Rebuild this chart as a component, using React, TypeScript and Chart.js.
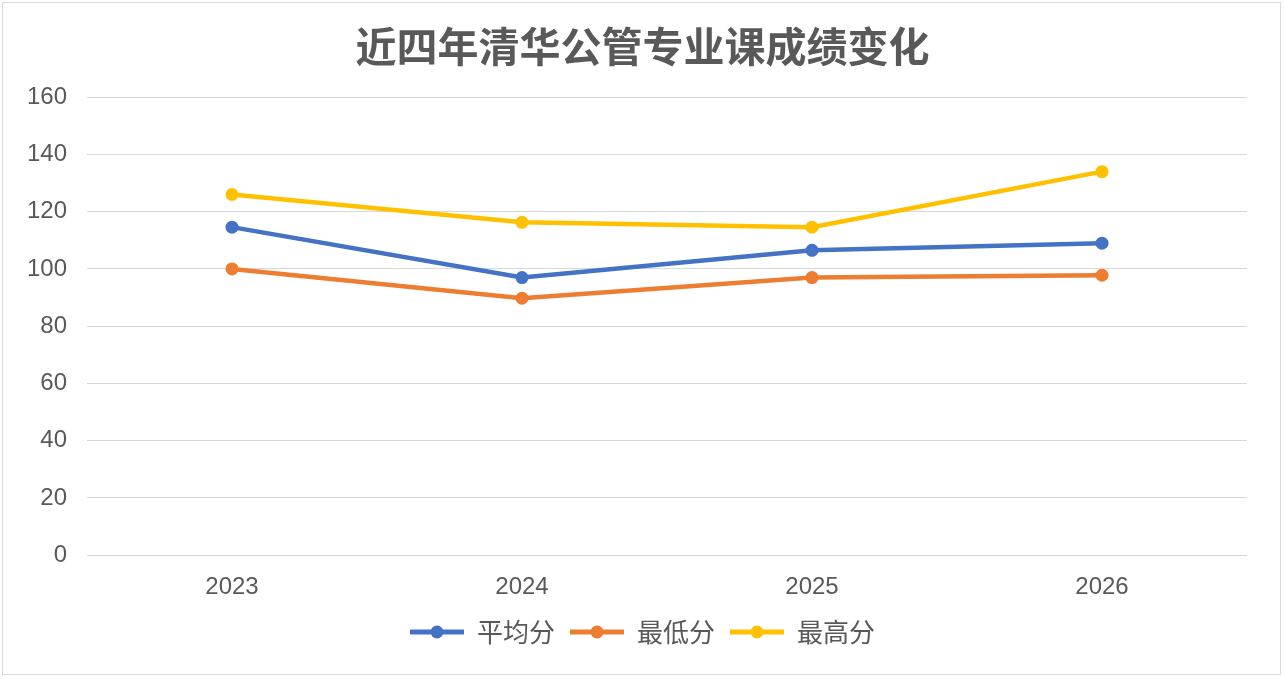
import React, { useEffect, useRef } from "react";
import { Chart, registerables } from "chart.js";

Chart.register(...registerables);

const title = "近四年清华公管专业课成绩变化";
const years = ["2023", "2024", "2025", "2026"];
const seriesNames = ["平均分", "最低分", "最高分"];
const avgScores = [114.6, 97, 106.5, 109];
const lowScores = [100, 89.8, 97, 97.8];
const highScores = [126, 116.3, 114.6, 134];
const colors = ["#4472C4", "#ED7D31", "#FFC000"];

function legendIcon(color: string) {
  const c = document.createElement("canvas");
  c.width = 54;
  c.height = 14;
  const ctx = c.getContext("2d")!;
  ctx.strokeStyle = color;
  ctx.lineWidth = 5;
  ctx.beginPath();
  ctx.moveTo(0, 7);
  ctx.lineTo(54, 7);
  ctx.stroke();
  ctx.fillStyle = color;
  ctx.beginPath();
  ctx.arc(27, 7, 6.5, 0, Math.PI * 2);
  ctx.fill();
  return c;
}

export default function App() {
  const ref = useRef<HTMLCanvasElement>(null);
  useEffect(() => {
    document.body.style.margin = "0";
    const all = [avgScores, lowScores, highScores];
    const icons = colors.map(legendIcon);
    const chart = new Chart(ref.current!, {
      type: "line",
      data: {
        labels: years,
        datasets: seriesNames.map((n, i) => ({
          label: n,
          data: all[i],
          borderColor: colors[i],
          backgroundColor: colors[i],
          borderWidth: 4.5,
          pointRadius: 6.5,
          pointHoverRadius: 6.5,
          pointBorderWidth: 0,
          tension: 0,
          yAxisID: "y",
        })),
      },
      options: {
        animation: false,
        responsive: false,
        maintainAspectRatio: false,
        layout: { padding: { left: 0, right: 0, top: 0, bottom: 24 } },
        plugins: {
          title: {
            display: true,
            text: title,
            color: "#595959",
            font: { family: "'Noto Sans CJK SC', sans-serif", size: 41, weight: "bold" },
            padding: { top: 22, bottom: 26 },
          },
          legend: {
            position: "bottom",
            labels: {
              usePointStyle: true,
              pointStyleWidth: 54,
              color: "#595959",
              font: { family: "'Noto Sans CJK SC', sans-serif", size: 26 },
              boxWidth: 54,
              boxHeight: 14,
              padding: 15,
              generateLabels: (ch: any) =>
                ch.data.datasets.map((d: any, i: number) => ({
                  text: d.label,
                  fillStyle: colors[i],
                  strokeStyle: colors[i],
                  pointStyle: icons[i],
                  datasetIndex: i,
                  hidden: false,
                  fontColor: "#595959",
                })),
            },
          },
          tooltip: { enabled: false },
        },
        scales: {
          x: {
            offset: true,
            afterFit: (s: any) => {
              s.height -= 8;
            },
            grid: { display: false },
            border: { display: false },
            ticks: {
              color: "#595959",
              font: { family: "'Liberation Sans', sans-serif", size: 24 },
              padding: 10,
            },
          },
          y: {
            min: 0,
            max: 160,
            afterFit: (s: any) => {
              s.width = 87;
            },
            grid: { color: "#d9d9d9", lineWidth: 1, drawTicks: false },
            border: { display: false },
            ticks: {
              stepSize: 20,
              color: "#595959",
              font: { family: "'Liberation Sans', sans-serif", size: 24 },
              padding: 20,
            },
          },
          yRight: {
            position: "right",
            min: 0,
            max: 160,
            afterFit: (s: any) => {
              s.width = 38;
            },
            grid: { display: false, drawTicks: false },
            border: { display: false },
            ticks: { display: false },
          },
        },
      },
    });
    return () => chart.destroy();
  }, []);
  return (
    <div style={{ position: "absolute", left: 0, top: 0, width: 1285, height: 679, background: "#fff" }}>
      <div
        style={{
          position: "absolute",
          left: 2,
          top: 2,
          width: 1279,
          height: 673,
          border: "1px solid #d9d9d9",
          boxSizing: "border-box",
        }}
      />
      <canvas ref={ref} width={1285} height={679} style={{ position: "absolute", left: 0, top: 0 }} />
    </div>
  );
}
